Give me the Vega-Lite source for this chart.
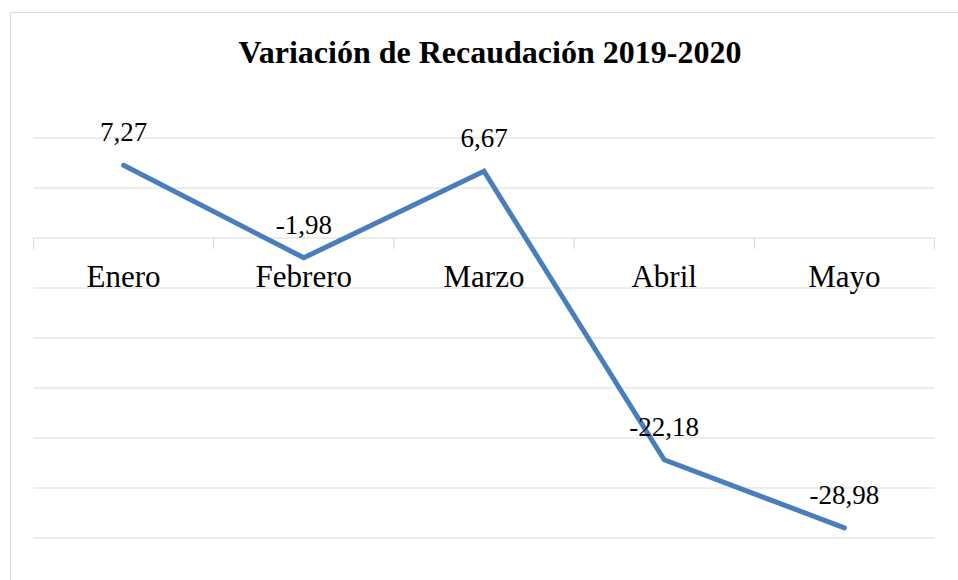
{
  "$schema": "https://vega.github.io/schema/vega-lite/v6.json",
  "width": 948,
  "height": 568,
  "autosize": {"type": "none"},
  "padding": {"left": 10, "top": 12, "right": 0, "bottom": 0},
  "background": "white",
  "config": {
    "view": {"stroke": "#d9d9d9", "strokeWidth": 1},
    "locale": {"number": {"decimal": ",", "thousands": ".", "grouping": [3], "currency": ["", " €"], "minus": "-"}},
    "font": "Liberation Serif"
  },
  "title": {
    "text": "Variación de Recaudación 2019-2020",
    "font": "Liberation Serif",
    "fontSize": 32,
    "fontWeight": "bold",
    "color": "black",
    "anchor": "middle",
    "frame": "group",
    "baseline": "alphabetic",
    "orient": "top",
    "offset": -83,
    "dx": 6
  },
  "datasets": {
    "series": [
      {"mes": "Enero", "variacion": 7.27},
      {"mes": "Febrero", "variacion": -1.98},
      {"mes": "Marzo", "variacion": 6.67},
      {"mes": "Abril", "variacion": -22.18},
      {"mes": "Mayo", "variacion": -28.98}
    ],
    "grid": [
      {"v": -30}, {"v": -25}, {"v": -20}, {"v": -15}, {"v": -10},
      {"v": -5}, {"v": 0}, {"v": 5}, {"v": 10}
    ]
  },
  "resolve": {"scale": {"x": "shared", "y": "shared"}},
  "layer": [
    {
      "data": {"name": "grid"},
      "mark": {"type": "rule", "color": "#d9d9d9", "strokeWidth": 1},
      "encoding": {
        "x": {"datum": "Enero", "type": "nominal", "bandPosition": 0,
              "scale": {"type": "band", "domain": ["Enero", "Febrero", "Marzo", "Abril", "Mayo"], "range": [23.5, 924.5], "paddingInner": 0, "paddingOuter": 0}},
        "x2": {"datum": "Mayo", "bandPosition": 1},
        "y": {"field": "v", "type": "quantitative",
              "scale": {"domain": [-30, 10], "range": [526, 126], "nice": false, "zero": false}, "axis": null}
      }
    },
    {
      "data": {"name": "series"},
      "mark": {"type": "rule", "color": "#d9d9d9", "strokeWidth": 1},
      "encoding": {
        "x": {"field": "mes", "type": "nominal", "bandPosition": 0, "sort": null},
        "y": {"datum": 0, "type": "quantitative"},
        "y2": {"datum": -1.1}
      }
    },
    {
      "data": {"name": "series"},
      "mark": {"type": "rule", "color": "#d9d9d9", "strokeWidth": 1},
      "encoding": {
        "x": {"datum": "Mayo", "type": "nominal", "bandPosition": 1},
        "y": {"datum": 0, "type": "quantitative"},
        "y2": {"datum": -1.1}
      }
    },
    {
      "data": {"name": "series"},
      "mark": {"type": "line", "color": "#4a7ebb", "strokeWidth": 5, "strokeCap": "round", "strokeJoin": "miter"},
      "encoding": {
        "x": {"field": "mes", "type": "nominal", "bandPosition": 0.5, "sort": null,
              "axis": {"title": null, "domain": false, "ticks": false, "tickSize": 0, "grid": false,
                       "orient": "bottom", "offset": -342, "labelPadding": 48, "labelBaseline": "alphabetic",
                       "labelAlign": "center", "bandPosition": 0.5,
                       "labelFont": "Liberation Serif", "labelFontSize": 31, "labelColor": "black", "labelAngle": 0}},
        "y": {"field": "variacion", "type": "quantitative"}
      }
    },
    {
      "data": {"name": "series"},
      "mark": {"type": "text", "font": "Liberation Serif", "fontSize": 27, "color": "black", "baseline": "alphabetic", "align": "center", "dy": -24},
      "encoding": {
        "x": {"field": "mes", "type": "nominal", "bandPosition": 0.5, "sort": null},
        "y": {"field": "variacion", "type": "quantitative"},
        "text": {"field": "variacion", "type": "quantitative", "format": ".2f"}
      }
    }
  ]
}
